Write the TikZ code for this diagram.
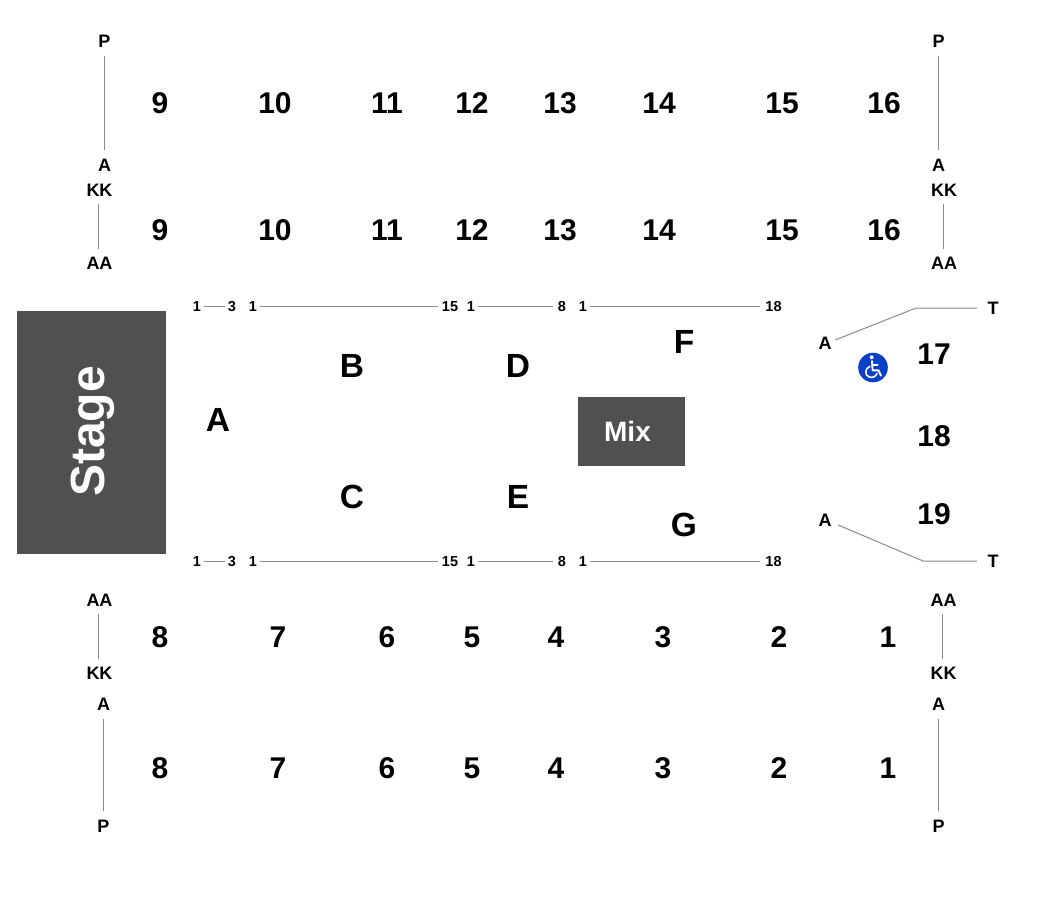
\documentclass[tikz,border=0pt]{standalone}
\usepackage{fontspec}
\setmainfont{Liberation Sans}
\definecolor{blockgray}{HTML}{505050}
\definecolor{linegray}{HTML}{8A8A8A}
\definecolor{wheelblue}{HTML}{0B3FC6}
\tikzset{
  x=1pt,y=-1pt,
  base/.style={inner sep=0pt,text=black,font=\bfseries},
  secnum/.style={base,font=\fontsize{30}{30}\selectfont\bfseries},
  secletter/.style={base,font=\fontsize{33.5}{33.5}\selectfont\bfseries},
  rowlabel/.style={base,inner xsep=3pt,inner ysep=9pt,font=\fontsize{18}{18}\selectfont\bfseries},
  seatlabel/.style={base,inner xsep=3pt,inner ysep=4pt,text height=10.4pt,text depth=0pt,font=\fontsize{14.5}{14.5}\selectfont\bfseries},
  sidelabel/.style={base,font=\fontsize{18}{18}\selectfont\bfseries},
  conn/.style={draw=linegray,line width=1pt},
  blockbox/.style={fill=blockgray,draw=none,inner sep=0pt,anchor=north west,text=white}
}
\begin{document}
\begin{tikzpicture}
\useasboundingbox (0,0) rectangle (1050,898);
\fill[white] (0,0) rectangle (1050,898);
% blocks
\node[blockbox,minimum width=149pt,minimum height=243pt] (stagebox) at (17,311) {};
\node[base,text=white,rotate=90,font=\fontsize{48}{48}\selectfont\bfseries] (stagetext) at (92.5,431.5) {Stage};
\node[blockbox,minimum width=107pt,minimum height=69pt] (mixbox) at (578,397) {};
\node[base,text=white,font=\fontsize{28}{28}\selectfont\bfseries] (mixtext) at (627.5,431.5) {Mix};
% section numbers
\foreach \t/\x in {9/160,10/275,11/387,12/472,13/560,14/659,15/782,16/884}{
  \node[secnum] (up\t) at (\x,103) {\t};
  \node[secnum] (lo\t) at (\x,230) {\t};
}
\foreach \t/\x in {8/160,7/278,6/387,5/472,4/556,3/663,2/779,1/888}{
  \node[secnum] (up\t) at (\x,637) {\t};
  \node[secnum] (lo\t) at (\x,768) {\t};
}
\node[secnum] (s17) at (934,354) {17};
\node[secnum] (s18) at (934,436) {18};
\node[secnum] (s19) at (934,514) {19};
% floor letters
\foreach \t/\x/\y in {A/218/420,B/352/366,C/352/497,D/518/366,E/518/497,F/684/342,G/684/525}{
  \node[secletter] (f\t) at (\x,\y) {\t};
}
% corner rows
\node[rowlabel] (tlP) at (104.5,41) {P};
\node[rowlabel] (tlA) at (104.5,165) {A};
\node[rowlabel] (tlKK) at (99.5,190) {KK};
\node[rowlabel] (tlAA) at (99.5,263) {AA};
\node[rowlabel] (trP) at (938.5,41) {P};
\node[rowlabel] (trA) at (938.5,165) {A};
\node[rowlabel] (trKK) at (944,190) {KK};
\node[rowlabel] (trAA) at (944,263) {AA};
\node[rowlabel] (blAA) at (99.5,600) {AA};
\node[rowlabel] (blKK) at (99.5,673) {KK};
\node[rowlabel] (blA) at (103.5,704) {A};
\node[rowlabel] (blP) at (103.5,826) {P};
\node[rowlabel] (brAA) at (943.5,600) {AA};
\node[rowlabel] (brKK) at (943.5,673) {KK};
\node[rowlabel] (brA) at (938.5,704) {A};
\node[rowlabel] (brP) at (938.5,826) {P};
\foreach \a/\b/\d in {tlP/tlA/-0.5,trP/trA/-0.5,blA/blP/-0.5,brA/brP/-0.5}{
  \draw[conn] ([xshift=\d pt]\a.south) -- ([xshift=\d pt]\b.north);
}
\foreach \a/\b/\d in {tlKK/tlAA/-1.5,trKK/trAA/-1,blAA/blKK/-1.5,brAA/brKK/-1.5}{
  \draw[conn,shorten <=-1.5pt,shorten >=-1.5pt] ([xshift=\d pt]\a.south) -- ([xshift=\d pt]\b.north);
}
% seat rows
\foreach \r/\y in {t/306,b/561}{
  \node[seatlabel] (\r a1) at (197,\y) {1};
  \node[seatlabel] (\r a2) at (232,\y) {3};
  \node[seatlabel] (\r b1) at (253,\y) {1};
  \node[seatlabel] (\r b2) at (450,\y) {15};
  \node[seatlabel] (\r c1) at (471,\y) {1};
  \node[seatlabel] (\r c2) at (562,\y) {8};
  \node[seatlabel] (\r d1) at (583,\y) {1};
  \node[seatlabel] (\r d2) at (773.5,\y) {18};
  \draw[conn] (\r a1.east) -- (\r a2.west);
  \draw[conn,shorten >=1pt] (\r b1.east) -- (\r b2.west);
  \draw[conn,shorten >=2pt] (\r c1.east) -- (\r c2.west);
  \draw[conn,shorten >=2pt] (\r d1.east) -- (\r d2.west);
}
% right side rows
\node[sidelabel,inner sep=3.5pt] (raT) at (825,343) {A};
\node[sidelabel,inner sep=10.5pt] (rtT) at (993,308) {T};
\coordinate (kneeT) at (916,308);
\node[sidelabel,inner sep=6.5pt] (raB) at (825,520) {A};
\node[sidelabel,inner sep=10.5pt] (rtB) at (993,561) {T};
\coordinate (kneeB) at (923,561);
\draw[conn] ([yshift=3pt]raT.east) -- (kneeT) -- (rtT.west);
\draw[conn] ([yshift=-5pt]raB.east) -- (kneeB) -- (rtB.west);
% wheelchair symbol
\fill[wheelblue] (873,367.5) circle (14.8);
\begin{scope}[shift={(873,367.5)},white]
  \fill (-1.3,-10.2) circle (2);
  \draw[line width=1.9pt,line cap=round,line join=round] (-1,-6.5) -- (-0.4,2.8) -- (5.4,2.8) -- (8,8.2);
  \draw[line width=1.4pt,line cap=round] (-0.9,-2.4) -- (4.8,-2.4);
  \draw[line width=1.6pt] (-2.8,-1.3) .. controls (-8.2,0.6) and (-8.9,8) .. (-3.6,9.6) .. controls (-0.2,10.6) and (3.2,8.8) .. (4.2,5.6);
\end{scope}
\end{tikzpicture}
\end{document}
